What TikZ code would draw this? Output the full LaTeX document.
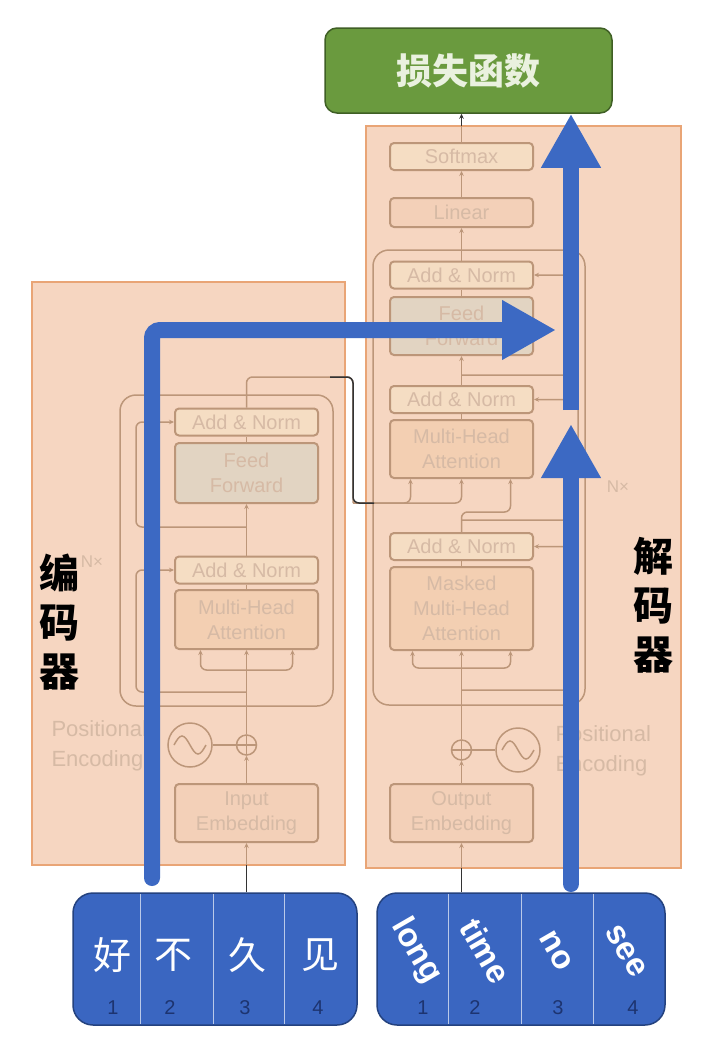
\documentclass[tikz,border=0pt]{standalone}
\usepackage{fontspec}
\setmainfont{Liberation Sans}
\newfontfamily\cjk{Noto Sans CJK SC}
\usetikzlibrary{arrows.meta,positioning}

\definecolor{panelfill}{HTML}{F6D6C1}
\definecolor{panelline}{HTML}{E9A576}
\definecolor{faint}{HTML}{BC9679}
\definecolor{fainttext}{HTML}{D6BAA5}
\definecolor{anfill}{HTML}{F5DDC3}
\definecolor{mhafill}{HTML}{F3CFB2}
\definecolor{fffill}{HTML}{E2D4C2}
\definecolor{embfill}{HTML}{F3D0B8}
\definecolor{lossgreen}{HTML}{6A9A3E}
\definecolor{lossline}{HTML}{3F5F25}
\definecolor{losstext}{HTML}{EAF1DF}
\definecolor{flowblue}{HTML}{3C69C3}
\definecolor{tokenblue}{HTML}{3A66C1}
\definecolor{tokenline}{HTML}{24427F}
\definecolor{numnavy}{HTML}{1D3470}

\tikzset{
  panel/.style={draw=panelline,fill=panelfill,line width=1.5pt},
  stack/.style={draw=faint,line width=1.5pt,rounded corners=16pt},
  layer/.style={draw=faint,line width=2pt,rounded corners=4pt,minimum width=143pt,
    inner sep=0pt,text=fainttext,align=center,font=\fontsize{20}{25}\selectfont},
  addnorm/.style={layer,fill=anfill,minimum height=27pt},
  attn/.style={layer,fill=mhafill},
  ffwd/.style={layer,fill=fffill},
  embed/.style={layer,fill=embfill,minimum height=58pt},
  plus/.style={circle,draw=faint,line width=1.5pt,minimum size=20pt,inner sep=0pt,
    path picture={\draw[faint,line width=1.2pt]
      (path picture bounding box.north) -- (path picture bounding box.south)
      (path picture bounding box.west) -- (path picture bounding box.east);}},
  wave/.style={circle,draw=faint,line width=1.5pt,minimum size=44pt,inner sep=0pt},
  wire/.style={draw=faint,line width=1.5pt,rounded corners=6pt},
  into/.style={wire,-{Stealth[length=5pt,width=4.5pt]}},
  darkwire/.style={draw=black!80,line width=1.5pt,rounded corners=6pt},
  faintlabel/.style={text=fainttext,align=left,font=\fontsize{22}{30}\selectfont},
  nx/.style={text=fainttext,font=\fontsize{17}{17}\selectfont},
  side/.style={align=center,font=\cjk\bfseries\fontsize{40}{49}\selectfont},
  flow/.style={draw=flowblue,line width=16pt,line cap=round,rounded corners=8pt,
    -{Triangle[length=54pt,width=56pt]}},
  loss/.style={draw=lossline,fill=lossgreen,line width=1.5pt,rounded corners=12pt,
    minimum width=287pt,minimum height=85pt,text=losstext,
    font=\cjk\bfseries\fontsize{36}{36}\selectfont},
  tokens/.style={draw=tokenline,fill=tokenblue,line width=1.5pt,rounded corners=20pt,
    minimum height=132pt},
  divider/.style={draw=white!65!tokenblue,line width=1pt},
  srcword/.style={text=white,inner sep=0pt,font=\cjk\fontsize{38}{38}\selectfont},
  tgtword/.style={text=white,inner sep=0pt,rotate=-60,
    font=\bfseries\fontsize{33}{33}\selectfont},
  num/.style={text=numnavy,inner sep=0pt,font=\fontsize{20}{20}\selectfont}
}

\begin{document}
\begin{tikzpicture}[x=1pt,y=-1pt]
  \useasboundingbox (0,0) rectangle (720,1050);
  \fill[white] (0,0) rectangle (720,1050);

  % panels
  \draw[panel] (32,282) rectangle (345,865);
  \draw[panel] (366,126) rectangle (681,868);

  % encoder
  \draw[stack] (120,395) rectangle (333,706);
  \node[addnorm] (eAN2) at (246.5,422) {Add \& Norm};
  \node[ffwd,minimum height=60pt] (eFF) at (246.5,473) {Feed\\Forward};
  \node[addnorm] (eAN1) at (246.5,570) {Add \& Norm};
  \node[attn,minimum height=59pt] (eMHA) at (246.5,619.5) {Multi-Head\\Attention};
  \node[embed] (eEmb) at (246.5,813) {Input\\Embedding};
  \node[plus] (ePlus) at (246.5,745) {};
  \node[wave] (eWave) at (190,745) {};
  \draw[faint,line width=1.5pt] ([xshift=-16pt]eWave.center) sin ++(8,-9) cos ++(8,9)
    sin ++(8,9) cos ++(8,-9);
  \node[faintlabel,anchor=west] (ePos) at (48,746) {Positional\\Encoding};
  \node[nx] (eN) at (92,562) {N×};

  \coordinate (eIn) at (246.5,865);
  \coordinate (eSplit) at (246.5,670);
  \draw[into] (eIn) -- (eEmb.south);
  \draw[into] (eEmb.north) -- (ePlus.south);
  \draw[wire] (eWave.east) -- (ePlus.west);
  \draw[into] (ePlus.north) -- (eMHA.south);
  \draw[into] (eSplit) -| ([xshift=-46pt]eMHA.south);
  \draw[into] (eSplit) -| ([xshift=46pt]eMHA.south);
  \draw[into] (246.5,692) -- (136,692) -- (136,570) -- (eAN1.west);
  \draw[wire] (eMHA.north) -- (eAN1.south);
  \draw[into] (eAN1.north) -- (eFF.south);
  \draw[into] (246.5,527) -- (136,527) -- (136,422) -- (eAN2.west);
  \draw[wire] (eFF.north) -- (eAN2.south);

  % decoder
  \draw[stack] (373,250) rectangle (585,705);
  \node[addnorm] (dSoft) at (461.5,156.5) {Softmax};
  \node[addnorm,minimum height=29pt,fill=embfill] (dLin) at (461.5,212.5) {Linear};
  \node[addnorm] (dAN3) at (461.5,275) {Add \& Norm};
  \node[ffwd,minimum height=58pt] (dFF) at (461.5,326) {Feed\\Forward};
  \node[addnorm] (dAN2) at (461.5,399.5) {Add \& Norm};
  \node[attn,minimum height=58pt] (dMHA) at (461.5,449) {Multi-Head\\Attention};
  \node[addnorm] (dAN1) at (461.5,546.5) {Add \& Norm};
  \node[attn,minimum height=83pt] (dMask) at (461.5,608.5) {Masked\\Multi-Head\\Attention};
  \node[embed] (dEmb) at (461.5,813) {Output\\Embedding};
  \node[plus] (dPlus) at (461.5,750) {};
  \node[wave] (dWave) at (518,750) {};
  \draw[faint,line width=1.5pt] ([xshift=-16pt]dWave.center) sin ++(8,-9) cos ++(8,9)
    sin ++(8,9) cos ++(8,-9);
  \node[faintlabel,anchor=west] (dPos) at (552,751) {Positional\\Encoding};
  \node[nx] (dN) at (618,487) {N×};

  \coordinate (dIn) at (461.5,868);
  \coordinate (dSplit) at (461.5,668);
  \coordinate (dOut) at (461.5,126);
  \draw[into] (dIn) -- (dEmb.south);
  \draw[into] (dEmb.north) -- (dPlus.south);
  \draw[wire] (dWave.west) -- (dPlus.east);
  \draw[into] (dPlus.north) -- (dMask.south);
  \draw[into] (dSplit) -| ([xshift=-49pt]dMask.south);
  \draw[into] (dSplit) -| ([xshift=49pt]dMask.south);
  \draw[into] (461.5,690) -- (578,690) -- (578,546.5) -- (dAN1.east);
  \draw[wire] (dMask.north) -- (dAN1.south);
  \draw[into] (dAN1.north) -- (461.5,512) -| ([xshift=49pt]dMHA.south);
  \draw[into] (461.5,520) -- (578,520) -- (578,399.5) -- (dAN2.east);
  \draw[wire] (dMHA.north) -- (dAN2.south);
  \draw[into] (dAN2.north) -- (dFF.south);
  \draw[into] (461.5,375) -- (578,375) -- (578,275) -- (dAN3.east);
  \draw[wire] (dFF.north) -- (dAN3.south);
  \draw[into] (dAN3.north) -- (dLin.south);
  \draw[into] (dLin.north) -- (dSoft.south);
  \draw[wire] (dSoft.north) -- (dOut);

  % encoder output into decoder
  \coordinate (mem) at (353,503);
  \draw[wire] (eAN2.north) |- (353,377) -- (mem);
  \draw[into] (mem) -| ([xshift=-51pt]dMHA.south);
  \draw[into] (mem) -| (dMHA.south);
  \draw[darkwire] (330,377) -- (353,377) -- (mem) -- (374,503);

  % loss
  \node[loss] (loss) at (468.5,70.5) {损失函数};
  \draw[darkwire,-{Stealth[length=5pt,width=4.5pt]}] (dOut) -- (loss.south -| dOut);

  % side labels
  \node[side] (eLab) at (59,622) {编\\码\\器};
  \node[side] (dLab) at (653,605) {解\\码\\器};

  % token boxes
  \node[tokens,minimum width=284pt] (src) at (215,959) {};
  \node[tokens,minimum width=288pt] (tgt) at (521,959) {};
  \foreach \x in {140,213,284,448,521,593}
    \draw[divider] (\x,894) -- (\x,1024);
  \foreach \w/\x/\n [count=\i] in {好/112/113,不/173/170,久/247/245,见/320/318} {
    \node[srcword] (s\i) at (\x,955) {\w};
    \node[num] (sn\i) at (\n,1008) {\i};
  }
  \foreach \w/\x/\n [count=\i] in {long/416/423,time/486/475,no/556/558,see/626/633} {
    \node[tgtword] (t\i) at (\x,951) {\w};
    \node[num] (tn\i) at (\n,1008) {\i};
  }
  \draw[darkwire] (src.north -| eIn) -- (eIn);
  \draw[darkwire] (tgt.north -| dIn) -- (dIn);

  % blue flow arrows
  \coordinate (eFlow) at (152,878);
  \coordinate (eFlowTip) at (556,330);
  \coordinate (dFlow) at (571,884);
  \coordinate (dFlowTip) at (571,424);
  \coordinate (dFlowTop) at (571,410);
  \draw[flow] (eFlow) |- (eFlowTip);
  \draw[flow] (dFlow) -- (dFlowTip);
  \draw[flow,line cap=butt] (dFlowTop) -- (dFlowTop |- loss.south);
\end{tikzpicture}
\end{document}
